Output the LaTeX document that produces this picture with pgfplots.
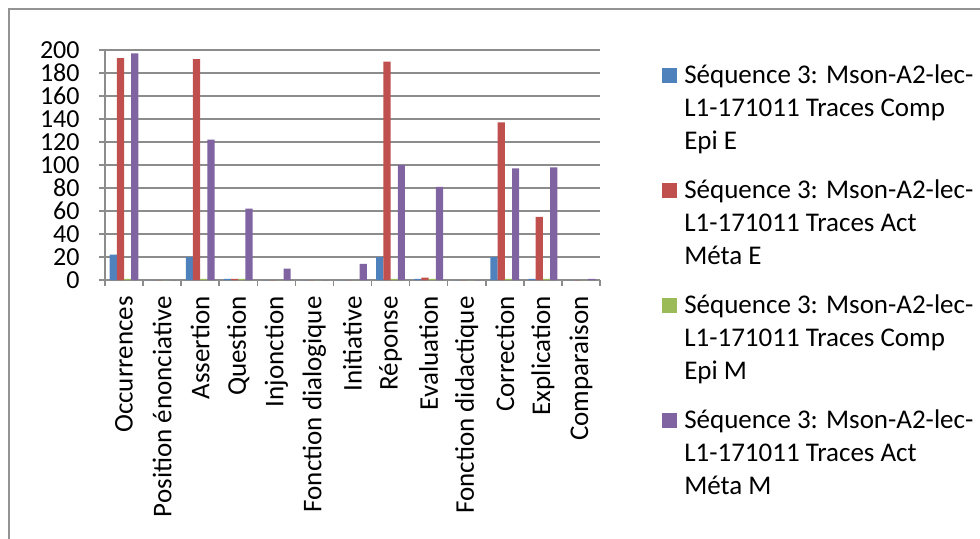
\documentclass[border=0pt]{standalone}
\usepackage{pgfplots}
\pgfplotsset{compat=1.18}
\usepackage{fontspec}
\setmainfont{Carlito}
\definecolor{serA}{HTML}{4F81BD}
\definecolor{serB}{HTML}{C0504D}
\definecolor{serC}{HTML}{9BBB59}
\definecolor{serD}{HTML}{8064A2}
\definecolor{gridgray}{HTML}{8C8C8C}
\newcommand{\legtxt}[3]{\begin{tabular}[t]{@{}l@{}}#1\\#2\\#3\end{tabular}}
\begin{document}
\begin{tikzpicture}[x=1pt,y=1pt]
\useasboundingbox (0,0) rectangle (490,269);
\draw[gray!85, line width=1pt] (4.5,-2) -- (4.5,264.5) -- (492,264.5);
\begin{axis}[
  at={(52.5pt,129pt)}, anchor=south west, scale only axis,
  width=247.5pt, height=115pt,
  ybar=0pt, bar width=3.6pt,
  xmin=-0.5, xmax=12.5, ymin=0, ymax=200,
  ytick={0,20,...,200},
  xtick={0,...,12},
  xticklabels={Occurrences,Position énonciative,Assertion,Question,Injonction,Fonction dialogique,Initiative,Réponse,Evaluation,Fonction didactique,Correction,Explication,Comparaison},
  minor xtick={-0.5,0.5,...,12.5},
  major x tick style={draw=none},
  tick align=outside,
  major tick length=3pt, minor tick length=3pt,
  tick style={gridgray, line width=0.8pt},
  axis x line*=bottom, axis y line*=left,
  axis line style={gridgray, line width=1pt, -},
  ymajorgrids, grid style={gridgray, line width=1pt},
  /pgf/number format/assume math mode=true,
  tick label style={font=\fontsize{13.5}{16.5}\selectfont, text=black},
  yticklabel style={inner sep=0pt, anchor=east, font=\fontsize{13}{14}\selectfont},
  yticklabel shift=9.5pt,
  xticklabel style={rotate=90, anchor=east, inner sep=0pt},
  xticklabel shift=5pt,
  legend style={at={(1.125,0.975)}, anchor=north west, draw=none, fill=none,
    inner sep=0pt, row sep=4pt, column sep=1.5pt,
    cells={anchor=base west}, nodes={text depth=},
    font=\fontsize{13.5}{16.5}\selectfont},
  legend image code/.code={\fill[#1] (0pt,0pt) rectangle (7.5pt,7.5pt);},
]
\addplot[fill=serA, draw=none] coordinates {(0,22) (1,0) (2,20) (3,1) (4,0) (5,0) (6,0) (7,20) (8,1) (9,0) (10,20) (11,1) (12,0)};
\addplot[fill=serB, draw=none] coordinates {(0,193) (1,0) (2,192) (3,1) (4,0) (5,0) (6,0) (7,190) (8,2) (9,0) (10,137) (11,55) (12,0)};
\addplot[fill=serC, draw=none] coordinates {(0,1) (1,0) (2,1) (3,1) (4,0) (5,0) (6,0) (7,1) (8,1) (9,0) (10,1) (11,1) (12,0)};
\addplot[fill=serD, draw=none] coordinates {(0,197) (1,0) (2,122) (3,62) (4,10) (5,0) (6,14) (7,100) (8,81) (9,0) (10,97) (11,98) (12,1)};
\addlegendentry{\legtxt{Séquence 3: Mson-A2-lec-}{L1-171011 Traces Comp}{Epi E}}
\addlegendentry{\legtxt{Séquence 3: Mson-A2-lec-}{L1-171011 Traces Act}{Méta E}}
\addlegendentry{\legtxt{Séquence 3: Mson-A2-lec-}{L1-171011 Traces Comp}{Epi M}}
\addlegendentry{\legtxt{Séquence 3: Mson-A2-lec-}{L1-171011 Traces Act}{Méta M}}
\end{axis}
\end{tikzpicture}
\end{document}
